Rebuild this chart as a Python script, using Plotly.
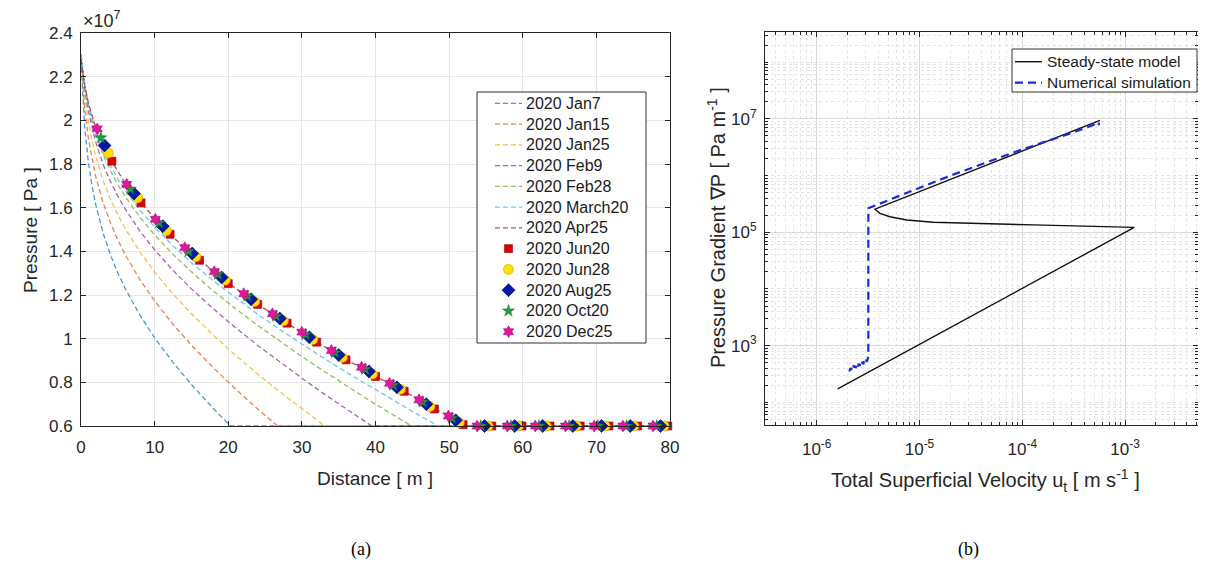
import plotly.graph_objects as go

# screen geometry: the page body has an 8px margin, so the figure is 16px smaller
SCR_W, SCR_H = 1206, 569
OFF = 8
W, H = SCR_W - 2 * OFF, SCR_H - 2 * OFF

# ================= Panel (a): pressure profiles (distance m, pressure in 1e7 Pa) =================
jan7_x = [0, 0.25, 0.5, 1, 1.5, 2, 3, 4, 5, 6, 8, 10, 12.5, 15, 18, 20.3, 80]
jan7_p = [2.278, 2.087, 1.967, 1.808, 1.699, 1.614, 1.484, 1.384, 1.301, 1.23, 1.108, 1.004,
          0.891, 0.79, 0.679, 0.6, 0.6]

jan15_x = [0, 0.25, 0.5, 1, 1.5, 2, 3, 4, 5, 6, 8, 10, 12.5, 15, 18, 21, 24, 26.7, 80]
jan15_p = [2.30, 2.155, 2.056, 1.918, 1.82, 1.742, 1.623, 1.53, 1.452, 1.385, 1.27, 1.173,
           1.066, 0.97, 0.866, 0.769, 0.678, 0.6, 0.6]

jan25_x = [0, 0.25, 0.5, 1, 1.5, 2, 3, 4, 5, 6, 8, 10, 12.5, 15, 18, 21, 24, 27, 30, 33.1, 80]
jan25_p = [2.30, 2.198, 2.114, 1.994, 1.905, 1.835, 1.725, 1.639, 1.567, 1.504, 1.397, 1.305,
           1.204, 1.114, 1.015, 0.924, 0.838, 0.757, 0.678, 0.6, 0.6]

feb9_x = [0, 0.25, 0.5, 1, 1.5, 2, 3, 4, 5, 6, 8, 10, 12.5, 15, 18, 21, 24, 27, 30, 33, 36,
          39.5, 80]
feb9_p = [2.30, 2.22, 2.149, 2.043, 1.964, 1.9, 1.799, 1.72, 1.653, 1.594, 1.493, 1.407, 1.313,
          1.228, 1.136, 1.05, 0.969, 0.892, 0.819, 0.747, 0.678, 0.6, 0.6]

feb28_x = [0, 0.25, 0.5, 1, 1.5, 2, 3, 4, 5, 6, 8, 10, 12.5, 15, 18, 21, 24, 27, 30, 33, 36,
           39, 42, 44.9, 80]
feb28_p = [2.30, 2.225, 2.163, 2.068, 1.996, 1.937, 1.843, 1.769, 1.706, 1.651, 1.556, 1.475,
           1.386, 1.306, 1.218, 1.137, 1.061, 0.988, 0.918, 0.851, 0.785, 0.721, 0.659, 0.6,
           0.6]

mar20_x = [0, 0.25, 0.5, 1, 1.5, 2, 3, 4, 5, 6, 8, 10, 12.5, 15, 18, 21, 24, 27, 30, 33, 36,
           39, 42, 45, 48.5, 80]
mar20_p = [2.295, 2.222, 2.164, 2.075, 2.008, 1.952, 1.863, 1.792, 1.732, 1.679, 1.589, 1.511,
           1.425, 1.348, 1.264, 1.186, 1.112, 1.042, 0.975, 0.91, 0.847, 0.786, 0.726, 0.667,
           0.6, 0.6]

apr25_x = [0, 0.25, 0.5, 1, 1.5, 2, 3, 4, 6, 8, 10, 12, 14, 16, 18, 20, 22, 24, 26, 28, 30, 32,
           34, 36, 38, 40, 42, 44, 46, 48, 50, 52.2, 80]
apr25_p = [2.28, 2.214, 2.161, 2.08, 2.018, 1.968, 1.888, 1.822, 1.712, 1.628, 1.552, 1.48,
           1.42, 1.362, 1.308, 1.255, 1.206, 1.157, 1.114, 1.071, 1.03, 0.984, 0.946, 0.903,
           0.869, 0.827, 0.793, 0.757, 0.719, 0.68, 0.645, 0.6, 0.6]

# measured points (markers)
jun20_x = [4.2, 8.15, 12.1, 16.1, 20.0, 24.0, 28.0, 32.0, 36.0, 40.0, 43.9, 48.0, 51.9, 55.8,
           59.9, 63.7, 67.8, 71.7, 75.6, 79.7]
jun20_p = [1.813, 1.622, 1.478, 1.359, 1.252, 1.157, 1.071, 0.984, 0.903, 0.827, 0.759, 0.678,
           0.606, 0.6, 0.6, 0.6, 0.6, 0.6, 0.6, 0.6]

jun28_x = [3.7, 7.7, 11.6, 15.6, 19.6, 23.6, 27.5, 31.5, 35.5, 39.6, 43.4, 47.4, 51.4, 55.3,
           59.4, 63.2, 67.3, 71.2, 75.1, 79.2]
jun28_p = [1.85, 1.645, 1.495, 1.375, 1.268, 1.17, 1.082, 0.996, 0.914, 0.838, 0.768, 0.689,
           0.616, 0.6, 0.6, 0.6, 0.6, 0.6, 0.6, 0.6]

aug25_x = [3.2, 7.2, 11.1, 15.1, 19.1, 23.1, 27.0, 31.0, 35.0, 39.1, 42.9, 46.9, 50.9, 54.8,
           58.9, 62.7, 66.8, 70.7, 74.6, 78.7]
aug25_p = [1.885, 1.665, 1.515, 1.39, 1.28, 1.18, 1.092, 1.007, 0.925, 0.85, 0.777, 0.7,
           0.626, 0.6, 0.6, 0.6, 0.6, 0.6, 0.6, 0.6]

oct20_x = [2.7, 6.7, 10.6, 14.6, 18.6, 22.6, 26.5, 30.5, 34.5, 38.6, 42.4, 46.4, 50.4, 54.3,
           58.4, 62.2, 66.3, 70.2, 74.1, 78.2]
oct20_p = [1.92, 1.685, 1.53, 1.4, 1.295, 1.195, 1.103, 1.019, 0.936, 0.86, 0.787, 0.71,
           0.636, 0.6, 0.6, 0.6, 0.6, 0.6, 0.6, 0.6]

dec25_x = [2.2, 6.2, 10.1, 14.1, 18.1, 22.1, 26.0, 30.0, 34.0, 38.1, 41.9, 45.9, 49.9, 53.8,
           57.9, 61.7, 65.8, 69.7, 73.6, 77.7]
dec25_p = [1.961, 1.707, 1.547, 1.417, 1.307, 1.206, 1.114, 1.03, 0.946, 0.869, 0.796, 0.72,
           0.646, 0.6, 0.6, 0.6, 0.6, 0.6, 0.6, 0.6]

a_xticks = [0, 10, 20, 30, 40, 50, 60, 70, 80]
a_yticks = [0.6, 0.8, 1.0, 1.2, 1.4, 1.6, 1.8, 2.0, 2.2, 2.4]
a_yticktext = ["0.6", "0.8", "1", "1.2", "1.4", "1.6", "1.8", "2", "2.2", "2.4"]

# ================= Panel (b): pressure gradient vs superficial velocity =================
steady_u = [1.6e-6, 1.23e-3, 1.28e-4, 2.88e-5, 1.36e-5, 7.5e-6, 5.16e-6, 4.13e-6, 3.69e-6, 5.7e-4]
steady_dp = [172, 1.22e5, 1.35e5, 1.44e5, 1.50e5, 1.65e5, 1.88e5, 2.16e5, 2.55e5, 9.4e6]

numsim_u = [2.08e-6, 2.12e-6, 2.16e-6, 2.2e-6, 2.24e-6, 2.28e-6, 2.33e-6, 2.38e-6, 2.42e-6,
            2.47e-6, 2.52e-6, 2.57e-6, 2.62e-6, 2.67e-6, 2.72e-6, 2.78e-6, 2.84e-6, 2.9e-6,
            2.96e-6, 3.02e-6, 3.08e-6, 3.13e-6, 3.18e-6, 3.18e-6, 2.0e-5, 1.0e-4, 3.0e-4,
            5.3e-4, 5.5e-4, 5.6e-4]
numsim_dp = [350, 400, 372, 430, 395, 445, 410, 440, 405, 470, 430, 480, 440, 500, 455, 520,
             470, 545, 500, 560, 520, 590, 640, 2.66e5, 1.0e6, 2.9e6, 5.6e6, 8.2e6, 8.8e6, 7.7e6]

b_xticks = [1e-6, 1e-5, 1e-4, 1e-3]
b_xticktext = ["10<sup>-6</sup>", "10<sup>-5</sup>", "10<sup>-4</sup>", "10<sup>-3</sup>"]
b_yticks = [1e3, 1e5, 1e7]
b_yticktext = ["10<sup>3</sup>", "10<sup>5</sup>", "10<sup>7</sup>"]

# ---------------------------------------------------------------------------------------
def px_x(p):  # screen pixel -> paper fraction
    return min(max((p - OFF) / W, 0.0), 1.0)

def px_y(p):
    return min(max(1 - (p - OFF) / H, 0.0), 1.0)

FONT = "Liberation Sans, Arial, sans-serif"
TXT = "#262626"

fig = go.Figure()

line_series = [
    ("2020 Jan7", jan7_x, jan7_p, "rgba(0,114,189,0.72)"),
    ("2020 Jan15", jan15_x, jan15_p, "rgba(217,83,25,0.72)"),
    ("2020 Jan25", jan25_x, jan25_p, "rgba(237,177,32,0.8)"),
    ("2020 Feb9", feb9_x, feb9_p, "rgba(126,47,142,0.72)"),
    ("2020 Feb28", feb28_x, feb28_p, "rgba(119,172,48,0.78)"),
    ("2020 March20", mar20_x, mar20_p, "rgba(77,190,238,0.85)"),
    ("2020 Apr25", apr25_x, apr25_p, "rgba(162,20,47,0.75)"),
]
LDASH = "5px,3px"
for name, xs, ps, col in line_series:
    fig.add_trace(go.Scatter(x=xs, y=ps, mode="lines", name=name,
                             line=dict(color=col, width=1.3, dash=LDASH),
                             xaxis="x", yaxis="y", showlegend=False))

marker_series = [
    ("2020 Jun20", jun20_x, jun20_p, dict(symbol="square", size=8, color="#e00000",
                                          line=dict(color="#a00000", width=0.6))),
    ("2020 Jun28", jun28_x, jun28_p, dict(symbol="circle", size=10, color="#ffe000",
                                          line=dict(color="#d0a000", width=0.6))),
    ("2020 Aug25", aug25_x, aug25_p, dict(symbol="diamond", size=10, color="#0018a8",
                                          line=dict(color="#000060", width=0.6))),
    ("2020 Oct20", oct20_x, oct20_p, dict(symbol="star", size=9, color="#1e9e3c",
                                          line=dict(color="#0e6e2c", width=0.5))),
    ("2020 Dec25", dec25_x, dec25_p, dict(symbol="hexagram", size=9, color="#e0189e",
                                          line=dict(color="#a00070", width=0.5))),
]
for name, xs, ps, mk in marker_series:
    fig.add_trace(go.Scatter(x=xs, y=ps, mode="markers", name=name, marker=mk,
                             cliponaxis=False, xaxis="x", yaxis="y", showlegend=False))

STEADY_LINE = dict(color="#111111", width=1.4)
NUM_LINE = dict(color="#1a2ad6", width=2.2, dash="8px,5px")
fig.add_trace(go.Scatter(x=steady_u, y=steady_dp, mode="lines", name="Steady-state model",
                         line=STEADY_LINE, xaxis="x2", yaxis="y2", showlegend=False))
fig.add_trace(go.Scatter(x=numsim_u, y=numsim_dp, mode="lines", name="Numerical simulation",
                         line=NUM_LINE, xaxis="x2", yaxis="y2", showlegend=False))

# ---------------- legends (drawn on a screen-pixel overlay axis) ----------------
def box_trace(x0, y0, x1, y1):
    return go.Scatter(x=[x0, x1, x1, x0, x0], y=[y0, y0, y1, y1, y0], mode="lines",
                      fill="toself", fillcolor="white", line=dict(color="#333333", width=1),
                      xaxis="x3", yaxis="y3", showlegend=False, hoverinfo="skip")

legend_text = []
fig.add_trace(box_trace(477, 92, 646, 343))
LEG_Y0, LEG_DY = 103.3, 20.76
row = 0
for name, xs, ps, col in line_series:
    yy = LEG_Y0 + LEG_DY * row
    fig.add_trace(go.Scatter(x=[495, 522], y=[yy, yy], mode="lines",
                             line=dict(color=col, width=1.3, dash=LDASH),
                             xaxis="x3", yaxis="y3", showlegend=False, hoverinfo="skip"))
    legend_text.append((524, yy, name, 16))
    row += 1
for name, xs, ps, mk in marker_series:
    yy = LEG_Y0 + LEG_DY * row
    fig.add_trace(go.Scatter(x=[508.5], y=[yy], mode="markers", marker=mk,
                             xaxis="x3", yaxis="y3", showlegend=False, hoverinfo="skip"))
    legend_text.append((524, yy, name, 16))
    row += 1
fig.add_trace(box_trace(1012, 49, 1197, 92))
for i, (name, ln) in enumerate([("Steady-state model", STEADY_LINE),
                                ("Numerical simulation", NUM_LINE)]):
    yy = 61.7 + 21 * i
    fig.add_trace(go.Scatter(x=[1015, 1042], y=[yy, yy], mode="lines", line=ln,
                             xaxis="x3", yaxis="y3", showlegend=False, hoverinfo="skip"))
    legend_text.append((1045, yy, name, 15.5))

def log_minor(lo_exp, hi_exp):
    vals = []
    for n in range(lo_exp, hi_exp + 1):
        for k in range(1, 10):
            vals.append(k * 10.0 ** n)
    return vals

axis_common = dict(showline=True, linecolor="#262626", linewidth=1, mirror="ticks",
                   ticks="inside", ticklen=5, tickcolor="#262626", zeroline=False,
                   automargin=False, tickfont=dict(family=FONT, size=17, color=TXT))

fig.update_layout(
    width=W, height=H, margin=dict(l=0, r=0, t=0, b=0, autoexpand=False),
    paper_bgcolor="white", plot_bgcolor="rgba(0,0,0,0)", showlegend=False,
    xaxis=dict(domain=[px_x(81), px_x(670)], range=[0, 80], tickvals=a_xticks,
               showgrid=True, gridcolor="#e6e6e6", gridwidth=1, anchor="y",
               ticklabelstandoff=6, **axis_common),
    yaxis=dict(domain=[px_y(426), px_y(33)], range=[0.6, 2.4], tickvals=a_yticks,
               ticktext=a_yticktext, showgrid=True, gridcolor="#e6e6e6", gridwidth=1,
               anchor="x", ticklabelstandoff=4, **axis_common),
    xaxis2=dict(type="log", domain=[px_x(765), px_x(1198)], range=[-6.503, -2.29],
                tickvals=b_xticks, ticktext=b_xticktext, showgrid=True, gridcolor="#d9d9d9",
                anchor="y2", ticklabelstandoff=9,
                minor=dict(tickmode="array", tickvals=log_minor(-7, -3), ticks="inside",
                           ticklen=3, tickcolor="#262626", showgrid=True,
                           gridcolor="#e3e3e3", griddash="dot"),
                **axis_common),
    yaxis2=dict(type="log", domain=[px_y(425), px_y(32)], range=[1.60, 8.533],
                tickvals=b_yticks, ticktext=b_yticktext, showgrid=True, gridcolor="#d9d9d9",
                anchor="x2", ticklabelstandoff=4,
                minor=dict(tickmode="array", tickvals=log_minor(1, 8), ticks="inside",
                           ticklen=3, tickcolor="#262626", showgrid=True,
                           gridcolor="#e3e3e3", griddash="dot"),
                **axis_common),
    xaxis3=dict(domain=[0, 1], range=[OFF, OFF + W], visible=False, fixedrange=True,
                anchor="y3"),
    yaxis3=dict(domain=[0, 1], range=[OFF + H, OFF], visible=False, fixedrange=True,
                anchor="x3"),
)

ann = [
    dict(x=px_x(81), y=px_y(19), text="\u00d710<sup>7</sup>", xanchor="left",
         font=dict(family=FONT, size=18, color=TXT)),
    dict(x=px_x(30), y=px_y(230), text="Pressure [ Pa ]", textangle=-90,
         font=dict(family=FONT, size=19, color=TXT)),
    dict(x=px_x(375), y=px_y(478), text="Distance [ m ]",
         font=dict(family=FONT, size=19, color=TXT)),
    dict(x=px_x(716), y=px_y(228), text="Pressure Gradient \u2207P [ Pa m<sup>-1</sup> ]",
         textangle=-90, font=dict(family=FONT, size=20, color=TXT)),
    dict(x=px_x(985), y=px_y(480),
         text="Total Superficial Velocity u<sub>t</sub> [ m s<sup>-1</sup> ]",
         font=dict(family=FONT, size=20, color=TXT)),
    dict(x=px_x(361), y=px_y(549), text="(a)",
         font=dict(family="Liberation Serif, Times New Roman, serif", size=18, color="black")),
    dict(x=px_x(968), y=px_y(549), text="(b)",
         font=dict(family="Liberation Serif, Times New Roman, serif", size=18, color="black")),
]
for (tx, ty, name, fs) in legend_text:
    ann.append(dict(x=px_x(tx), y=px_y(ty), text=name, xanchor="left",
                    font=dict(family=FONT, size=fs, color="#1a1a1a")))
for a in ann:
    a.setdefault("xanchor", "center")
    a.setdefault("yanchor", "middle")
    a.update(xref="paper", yref="paper", showarrow=False)
fig.update_layout(annotations=ann)

fig.write_html("out.html")
